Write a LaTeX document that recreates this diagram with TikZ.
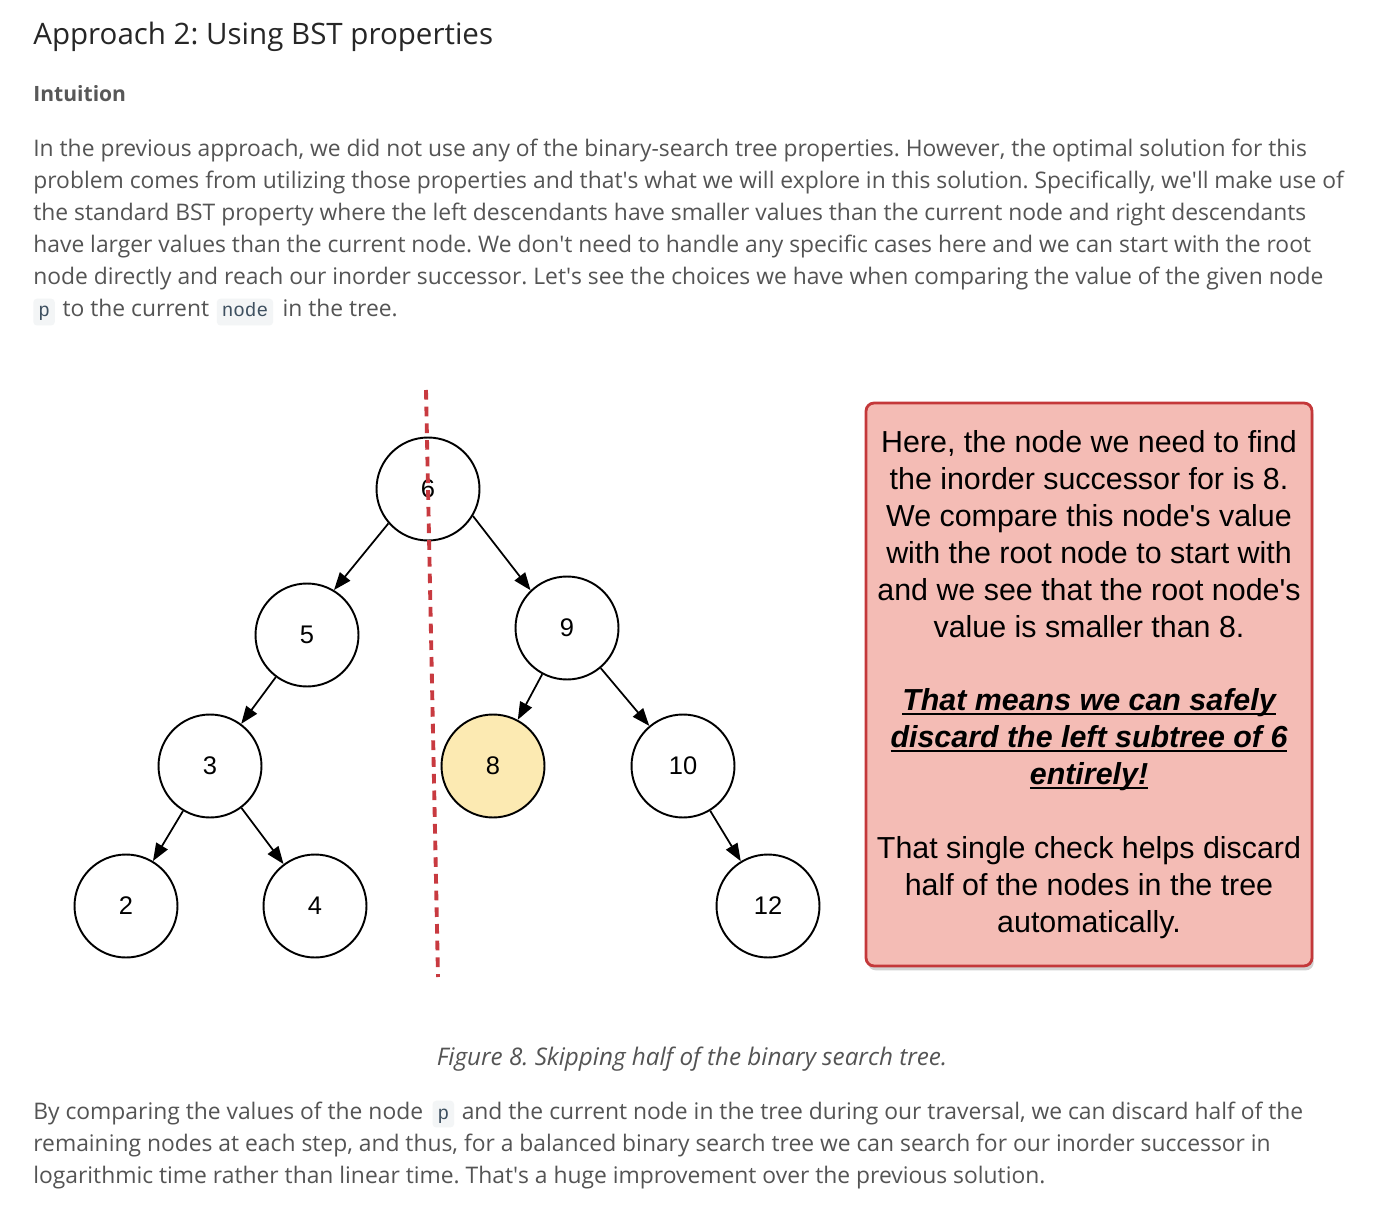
\documentclass[tikz,border=0pt]{standalone}
\usepackage{fontspec}
\setmainfont{Liberation Sans}
\newfontfamily\opensans{Open Sans}
\newfontfamily\arialish{Liberation Sans}
\newfontfamily\monofam{Liberation Mono}
\usetikzlibrary{arrows.meta,positioning,shadows}
\frenchspacing

\definecolor{headgray}{RGB}{38,38,38}
\definecolor{subgray}{RGB}{88,88,88}
\definecolor{bodygray}{RGB}{84,84,84}
\definecolor{codebg}{RGB}{243,245,246}
\definecolor{codefg}{RGB}{62,80,96}
\definecolor{cutred}{RGB}{200,58,64}
\definecolor{notefill}{RGB}{244,188,181}
\definecolor{noteline}{RGB}{196,56,58}
\definecolor{keyfill}{RGB}{252,234,178}

\newcommand\apo{\textquotesingle}
\newcommand\headtext{\opensans\fontsize{16.8}{19}\selectfont}
\newcommand\subtext{\opensans\bfseries\fontsize{12}{14}\selectfont}
\newcommand\bodytext{\opensans\fontsize{13}{15.6}\selectfont}
\newcommand\captext{\opensans\itshape\fontsize{13.8}{16}\selectfont}
\newcommand\codetext{\monofam\fontsize{11}{13}\selectfont}
\newcommand\treetext{\arialish\fontsize{14.5}{17}\selectfont}
\newcommand\notetext{\arialish\fontsize{17.3}{21}\selectfont}
\newcommand\keyline[1]{\setbox0\hbox{\bfseries\itshape #1}\rlap{\rule[-2.6pt]{\wd0}{1.1pt}}\box0}

\begin{document}
\begin{tikzpicture}[x=0.02cm,y=-0.02cm,
	body/.style={anchor=base west,inner sep=0pt,text=bodygray,font=\bodytext},
	code/.style={anchor=base west,fill=codebg,rounded corners=2pt,inner xsep=2.8pt,inner ysep=2.2pt,text height=8.2pt,text depth=2.6pt,text=codefg,font=\codetext},
	tnode/.style={circle,draw,line width=1.1pt,minimum size=2.06cm,inner sep=0pt,font=\treetext},
	tedge/.style={-{Triangle[length=10pt,width=7.5pt]},line width=1pt},
	cutline/.style={cutred,line width=2.2pt,dash pattern=on 5.5pt off 4pt},
	notebox/.style={draw=noteline,fill=notefill,line width=1.6pt,rounded corners=4.5pt,minimum width=8.92cm,minimum height=11.26cm,align=center,font=\notetext,drop shadow={shadow xshift=1pt,shadow yshift=-2.5pt,opacity=0.35}}]
	\fill[white] (0,0) rectangle (1378,1212);
	\useasboundingbox (0,0) rectangle (1378,1212);

	\node[anchor=base west,inner sep=0pt,text=headgray,font=\headtext] (title) at (33,45) {Approach 2: Using BST properties};
	\node[anchor=base west,inner sep=0pt,text=subgray,font=\subtext] (intu) at (33,102) {Intuition};

	\node[body] (l1) at (33,157) {In the previous approach, we did not use any of the binary-search tree properties. However, the optimal solution for this};
	\node[body] (l2) at (33,189) {problem comes from utilizing those properties and that\apo s what we will explore in this solution. Specifically, we\apo ll make use of};
	\node[body] (l3) at (33,221) {the standard BST property where the left descendants have smaller values than the current node and right descendants};
	\node[body] (l4) at (33,253) {have larger values than the current node. We don\apo t need to handle any specific cases here and we can start with the root};
	\node[body] (l5) at (33,285) {node directly and reach our inorder successor. Let\apo s see the choices we have when comparing the value of the given node};
	\node[code] (cp1) at (33,317) {p};
	\node[body,base right=4pt of cp1] (l6a) {to the current};
	\node[code,base right=4pt of l6a] (cnode) {node};
	\node[body,base right=5pt of cnode] (l6b) {in the tree.};

	\node[tnode] (n6) at (428,489) {6};
	\node[tnode] (n5) at (307,635) {5};
	\node[tnode] (n9) at (567,628) {9};
	\node[tnode] (n3) at (210,766) {3};
	\node[tnode,fill=keyfill] (n8) at (493,766) {8};
	\node[tnode] (n10) at (683,766) {10};
	\node[tnode] (n2) at (126,906) {2};
	\node[tnode] (n4) at (315,906) {4};
	\node[tnode] (n12) at (768,906) {12};
	\path[tedge]
	(n6.-139) edge (n5.59)
	(n6.-31) edge (n9.134)
	(n5) edge (n3)
	(n3) edge (n2)
	edge (n4)
	(n9) edge (n8)
	edge (n10)
	(n10) edge (n12);

	\coordinate (cuttop) at (426,390);
	\coordinate (cutbot) at (438,977);
	\draw[cutline] (cuttop) -- (cutbot);

	\node[notebox] (note) at (1089,684.5) {Here, the node we need to find\\
		the inorder successor for is 8.\\
		We compare this node\apo s value\\
		with the root node to start with\\
		and we see that the root node\apo s\\
		value is smaller than 8.\\[21pt]
		\keyline{That means we can safely}\\
		\keyline{discard the left subtree of 6}\\
		\keyline{entirely!}\\[21pt]
		That single check helps discard\\
		half of the nodes in the tree\\
		automatically.};

	\node[anchor=base,inner sep=0pt,text=bodygray,font=\captext] (cap) at (692,1065) {Figure 8. Skipping half of the binary search tree.};

	\node[body] (b1) at (33,1119) {By comparing the values of the node};
	\node[code,base right=5pt of b1] (cp2) {p};
	\node[body,base right=4pt of cp2] (b1b) {and the current node in the tree during our traversal, we can discard half of the};
	\node[body] (b2) at (33,1151) {remaining nodes at each step, and thus, for a balanced binary search tree we can search for our inorder successor in};
	\node[body] (b3) at (33,1183) {logarithmic time rather than linear time. That\apo s a huge improvement over the previous solution.};
\end{tikzpicture}
\end{document}
